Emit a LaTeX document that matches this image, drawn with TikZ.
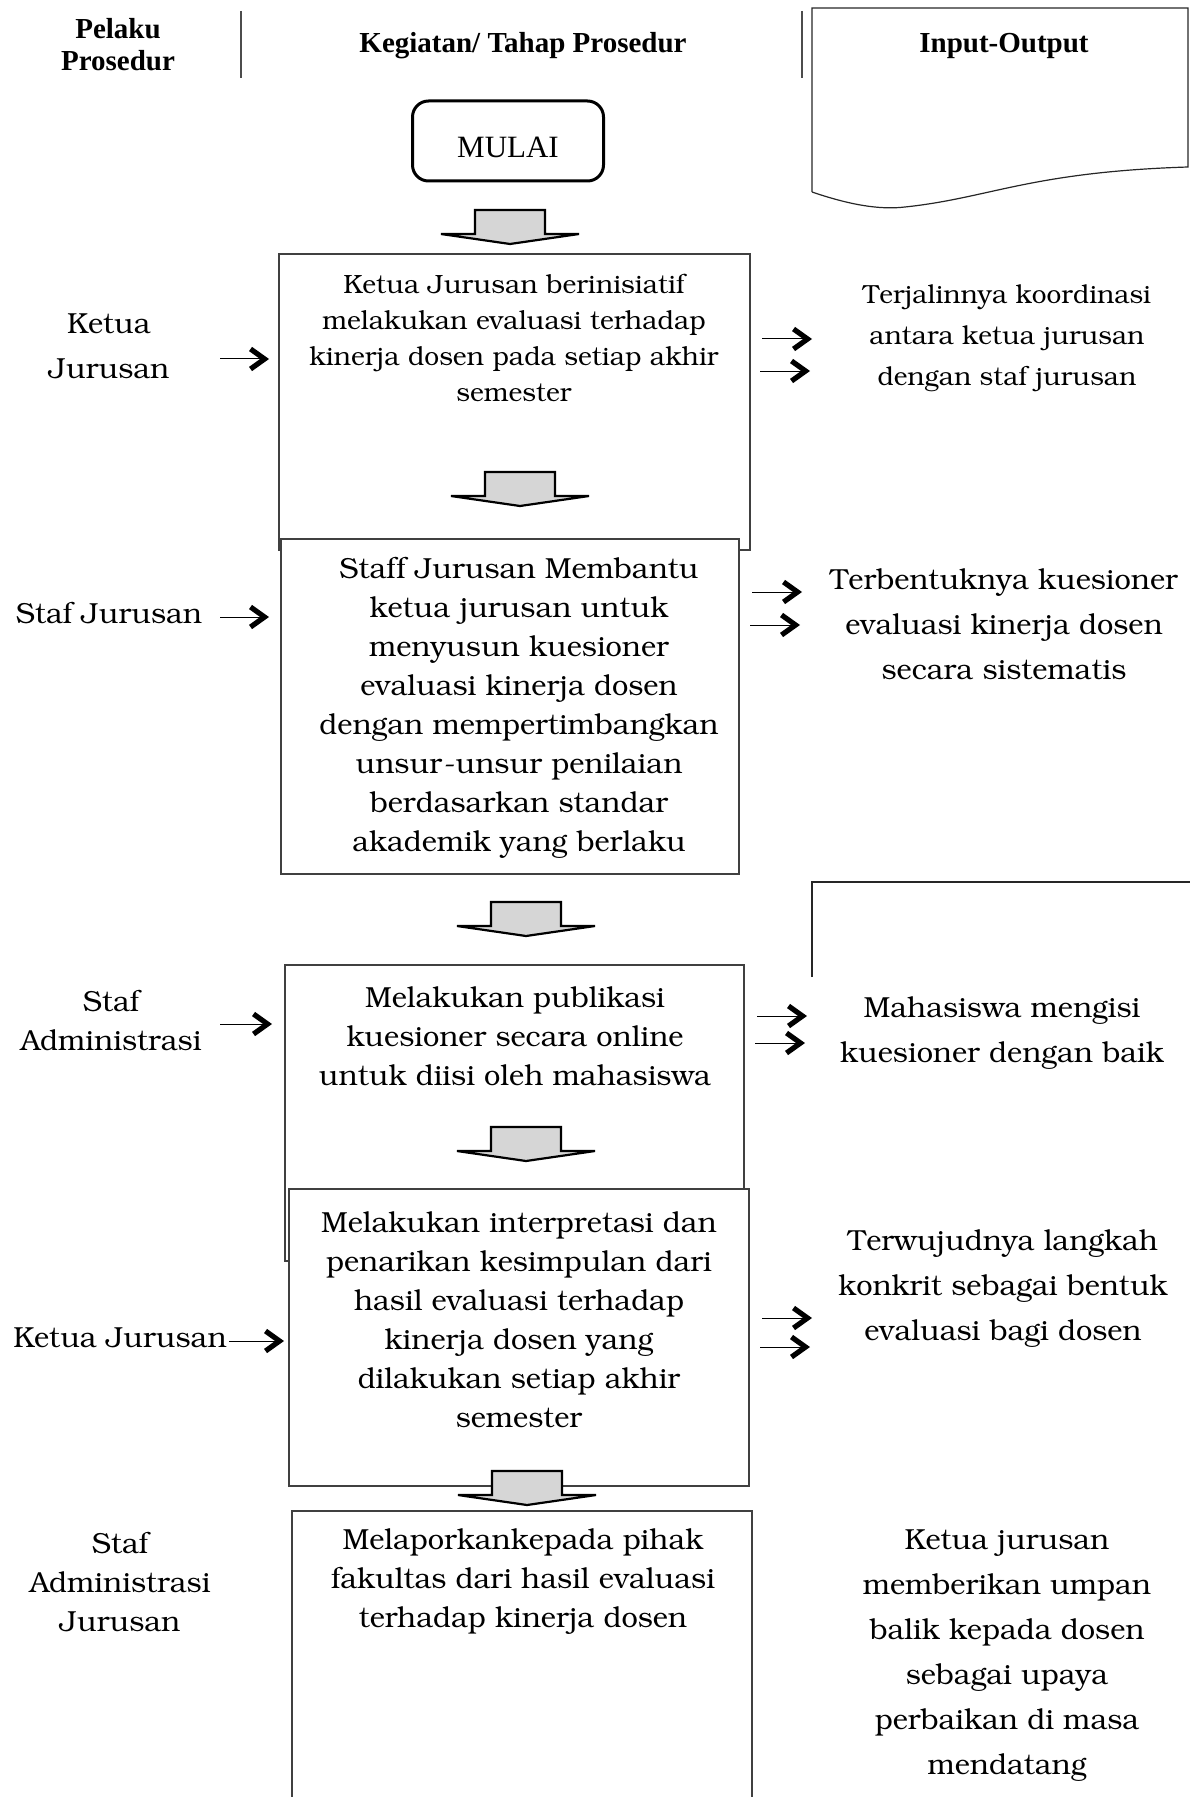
\documentclass[tikz,border=0pt]{standalone}
\usepackage[T1]{fontenc}
\usepackage{fontspec}
\setmainfont{Liberation Serif}
\usepackage{tikz}
\usetikzlibrary{arrows.meta,positioning,calc}
\newcommand{\bkfont}[2]{\fontencoding{T1}\fontfamily{pbk}\fontsize{#1}{#2}\selectfont}
\newcommand{\blockarrow}[1]{\draw[blockar] #1 ++(-35,0) -- ++(70,0) -- ++(0,24) -- ++(34,0) -- ++(-69,10) -- ++(-69,-10) -- ++(34,0) -- cycle;}

\begin{document}
\begin{tikzpicture}[x=0.5pt, y=-0.5pt]
                %\draw[help lines] (0,0) grid[step=100] (1190,1797);
                \tikzset{
                    hd/.style = {font=\bfseries\fontsize{14.5}{16}\selectfont, align=center},
                    actor/.style = {font=\bkfont{14.5}{22.5}, align=center, inner sep=0pt},
                    boxtext/.style = {font=\bkfont{14.5}{19.5}, align=center, inner sep=0pt},
                    outtext/.style = {font=\bkfont{14.5}{22.5}, align=center, inner sep=0pt},
                    pbox/.style = {draw=black!75, line width=0.6pt, fill=white},
                    docline/.style = {draw=black!85, line width=0.6pt},
                    sepline/.style = {draw=black!70, line width=0.6pt},
                    startbox/.style = {draw, rounded corners=8pt, line width=1.5pt, minimum width=95.5pt, minimum height=40pt},
                    blockar/.style = {draw, line width=1.1pt, fill=black!16, line join=miter},
                    inarr/.style = {line width=0.5pt, -{Straight Barb[length=7pt,width=10pt,line width=2.6pt]}}
                }
                \useasboundingbox (0,0) rectangle (1190,1797);

                % header
                \node[hd] (pelaku) at (118,45) {Pelaku\\Prosedur};
                \node[hd] (kegiatan) at (523,46) {Kegiatan/ Tahap Prosedur};
                \node[hd] (inout) at (1004,46) {Input-Output};
                \draw[sepline] (241,11) -- (241,78);
                \draw[sepline] (802,11) -- (802,78);
                \draw[docline] (812,192) -- (812,8) -- (1188,8) -- (1188,167)
                    .. controls (1030,172) and (990,198) .. (905,207)
                    .. controls (880,210) and (850,205) .. (812,192);
                \draw[docline] (812,977) -- (812,882) -- (1190,882);

                \node[startbox, label={[yshift=-3pt, font=\fontsize{15.5}{18}\selectfont]center:MULAI}] (mulai) at (508,141) {};

                % kotak prosedur
                \draw[pbox] (279,254) rectangle (750,550);
                \draw[pbox] (281,539) rectangle (739,874);
                \draw[pbox] (285,965) rectangle (744,1261);
                \draw[pbox] (289,1189) rectangle (749,1486);
                \draw[pbox] (292,1800) -- (292,1511) -- (752,1511) -- (752,1800);

                \blockarrow{(510,210)}
                \blockarrow{(520,472)}
                \blockarrow{(526,902)}
                \blockarrow{(526,1127)}
                \blockarrow{(527,1471)}

                \node[boxtext, font=\bkfont{13.2}{18}] (tahap1) at (514,338)
                    {Ketua Jurusan berinisiatif\\melakukan evaluasi terhadap\\kinerja dosen pada setiap akhir\\semester};
                \node[boxtext] (tahap2) at (519,708)
                    {Staff Jurusan Membantu\\ketua jurusan untuk\\menyusun kuesioner\\evaluasi kinerja dosen\\dengan mempertimbangkan\\unsur-unsur penilaian\\berdasarkan standar\\akademik yang berlaku};
                \node[boxtext] (tahap3) at (515,1036)
                    {Melakukan publikasi\\kuesioner secara online\\untuk diisi oleh mahasiswa};
                \node[boxtext] (tahap4) at (519,1320)
                    {Melakukan interpretasi dan\\penarikan kesimpulan dari\\hasil evaluasi terhadap\\kinerja dosen yang\\dilakukan setiap akhir\\semester};
                \node[boxtext] (tahap5) at (523,1582)
                    {Melaporkankepada pihak\\fakultas dari hasil evaluasi\\terhadap kinerja dosen};

                % pelaku
                \node[actor] (pelaku1) at (109,346) {Ketua\\Jurusan};
                \node[actor] (pelaku2) at (109,613) {Staf Jurusan};
                \node[actor, font=\bkfont{14.5}{19.5}] (pelaku3) at (111,1020) {Staf\\Administrasi};
                \node[actor] (pelaku4) at (120,1338) {Ketua Jurusan};
                \node[actor, font=\bkfont{14.5}{19.5}] (pelaku5) at (120,1582) {Staf\\Administrasi\\Jurusan};

                % output
                \node[outtext, font=\bkfont{13.1}{20.5}] (hasil1) at (1007,339)
                    {Terjalinnya koordinasi\\antara ketua jurusan\\dengan staf jurusan};
                \node[outtext] (hasil2) at (1004,624)
                    {Terbentuknya kuesioner\\evaluasi kinerja dosen\\secara sistematis};
                \node[outtext] (hasil3) at (1002,1033)
                    {Mahasiswa mengisi\\kuesioner dengan baik};
                \node[outtext] (hasil4) at (1003,1289)
                    {Terwujudnya langkah\\konkrit sebagai bentuk\\evaluasi bagi dosen};
                \node[outtext] (hasil5) at (1007,1655)
                    {Ketua jurusan\\memberikan umpan\\balik kepada dosen\\sebagai upaya\\perbaikan di masa\\mendatang};

                % panah masuk
                \coordinate (in1a) at (220,359);  \coordinate (in1b) at (269,359);
                \coordinate (in2a) at (220,617);  \coordinate (in2b) at (269,617);
                \coordinate (in3a) at (220,1024); \coordinate (in3b) at (272,1024);
                \coordinate (in4a) at (229,1341); \coordinate (in4b) at (284,1341);
                \foreach \n in {1,...,4}
                    \draw[inarr] (in\n a) -- (in\n b);

                % panah keluar
                \foreach \n/\xa/\ya/\yb in {1/762/339/371, 2/752/592/625, 3/757/1016/1043, 4/762/1318/1347}{
                    \coordinate (out\n a) at (\xa,\ya);
                    \coordinate (out\n b) at (\xa+50,\ya);
                    \coordinate (out\n c) at (\xa-2,\yb);
                    \coordinate (out\n d) at (\xa+48,\yb);
                    \draw[inarr] (out\n a) -- (out\n b);
                    \draw[inarr] (out\n c) -- (out\n d);
                }
        \end{tikzpicture}
\end{document}
